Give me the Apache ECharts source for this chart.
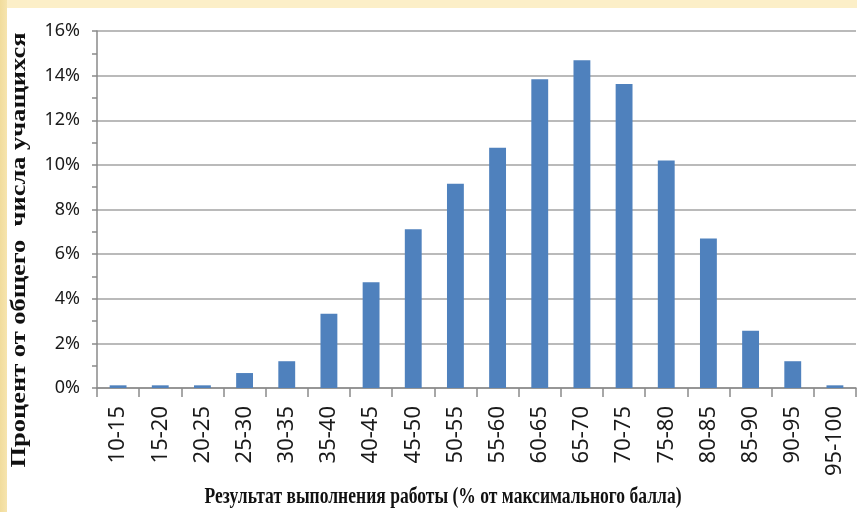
<!DOCTYPE html>
<html><head><meta charset="utf-8">
<script src="https://cdn.jsdelivr.net/npm/echarts@6/dist/echarts.min.js"></script>
<style>
html,body{margin:0;padding:0;width:857px;height:512px;overflow:hidden;}
body{background:linear-gradient(90deg,#f1dc9c 0px,#f6e4ae 7px,#fcefc8 7px,#fcefc8 100%);}
#paper{position:absolute;left:7px;top:8px;width:850px;height:504px;background:#ffffff;}
#chart{position:absolute;left:0;top:0;width:857px;height:512px;}
</style></head>
<body>
<div id="paper"></div>
<div id="chart"></div>
<script>
const categories = ['10-15','15-20','20-25','25-30','30-35','35-40','40-45','45-50','50-55','55-60','60-65','65-70','70-75','75-80','80-85','85-90','90-95','95-100'];
const percentValues = [0.12,0.12,0.12,0.67,1.2,3.33,4.74,7.11,9.15,10.77,13.84,14.69,13.63,10.2,6.7,2.57,1.2,0.12];
const yTitle = 'Процент от общего  числа учащихся';
const xTitle = 'Результат выполнения работы (% от максимального балла)';

function textWidth(txt, font){
  const c = document.createElement('canvas').getContext('2d');
  c.font = font; return c.measureText(txt).width;
}
const titleFontY = 'bold 22px "Liberation Serif"';
const titleFontX = 'bold 23px "Liberation Serif"';
const yScale = 435 / textWidth(yTitle, titleFontY);
const xScale = 477 / textWidth(xTitle, titleFontX);

const chart = echarts.init(document.getElementById('chart'), null, {renderer:'canvas'});
chart.setOption({
  backgroundColor:'transparent',
  animation:false,
  grid:{left:97,right:1,top:31,bottom:124,containLabel:false},
  xAxis:{
    type:'category', data:categories, boundaryGap:true,
    axisLine:{show:true,lineStyle:{color:'#8a8a8a',width:1.5}},
    axisTick:{show:true,length:9,interval:0,lineStyle:{color:'#8a8a8a',width:1.5}},
    axisLabel:{rotate:90,interval:0,margin:18,fontFamily:'Noto Sans',fontSize:22,color:'#1a1a1a'}
  },
  yAxis:{
    type:'value', min:0, max:16, interval:2,
    axisLine:{show:true,lineStyle:{color:'#8a8a8a',width:1.5}},
    axisTick:{show:true,length:5,lineStyle:{color:'#8a8a8a',width:1.5}},
    minorTick:{show:true,splitNumber:2,length:5,lineStyle:{color:'#8a8a8a',width:1.5}},
    splitLine:{show:true,lineStyle:{color:'#a3a3a3',width:1.5}},
    axisLabel:{formatter:'{value}%',margin:17,fontFamily:'Noto Sans',fontSize:18,color:'#1a1a1a'}
  },
  series:[{
    type:'bar', data:percentValues, barWidth:'40%',
    itemStyle:{color:'#4f81bd'}
  }],
  graphic:[
    {type:'text', x:19, y:250, rotation:Math.PI/2, scaleX:yScale,
     style:{text:yTitle, font:titleFontY, fill:'#111', align:'center', verticalAlign:'middle'}},
    {type:'text', x:443, y:497, scaleX:xScale,
     style:{text:xTitle, font:titleFontX, fill:'#111', align:'center', verticalAlign:'middle'}}
  ]
});
</script>
</body></html>
